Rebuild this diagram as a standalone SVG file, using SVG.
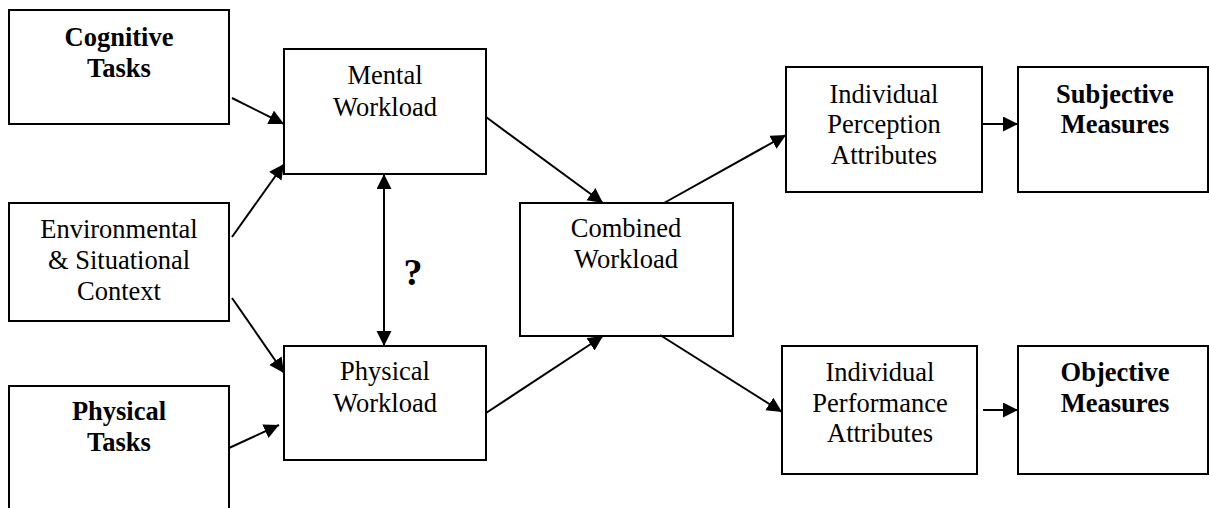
<svg xmlns="http://www.w3.org/2000/svg" width="1209" height="508" viewBox="0 0 1209 508">
  <style>
    .box { fill: #fff; stroke: #000; stroke-width: 2; }
    .lbl { font-family: "Liberation Serif", "Times New Roman", serif; font-size: 26.5px; fill: #000; text-anchor: middle; }
    .b { font-weight: bold; }
    .conn { stroke: #000; stroke-width: 2; fill: none; marker-end: url(#head); }
  </style>
  <defs>
    <marker id="head" markerUnits="userSpaceOnUse" markerWidth="16" markerHeight="16" refX="15" refY="7.5" orient="auto-start-reverse">
      <path d="M0,0 L15,7.5 L0,15 Z" fill="#000"/>
    </marker>
  </defs>
  <rect width="1209" height="508" fill="#fff"/>

  <g id="cognitive-tasks">
    <rect class="box" x="9" y="10" width="220" height="114"/>
    <text class="lbl b" x="119" y="46">Cognitive</text>
    <text class="lbl b" x="119" y="77">Tasks</text>
  </g>

  <g id="environmental-context">
    <rect class="box" x="9" y="203" width="220" height="118"/>
    <text class="lbl" x="119" y="238">Environmental</text>
    <text class="lbl" x="119" y="269">&amp; Situational</text>
    <text class="lbl" x="119" y="300">Context</text>
  </g>

  <g id="physical-tasks">
    <rect class="box" x="9" y="386" width="220" height="140"/>
    <text class="lbl b" x="119" y="420">Physical</text>
    <text class="lbl b" x="119" y="451">Tasks</text>
  </g>

  <g id="mental-workload">
    <rect class="box" x="284" y="49" width="202" height="125"/>
    <text class="lbl" x="385" y="84">Mental</text>
    <text class="lbl" x="385" y="116">Workload</text>
  </g>

  <g id="physical-workload">
    <rect class="box" x="284" y="346" width="202" height="114"/>
    <text class="lbl" x="385" y="380">Physical</text>
    <text class="lbl" x="385" y="412">Workload</text>
  </g>

  <g id="combined-workload">
    <rect class="box" x="520" y="203" width="213" height="133"/>
    <text class="lbl" x="626" y="237">Combined</text>
    <text class="lbl" x="626" y="268">Workload</text>
  </g>

  <g id="perception-attributes">
    <rect class="box" x="786" y="67" width="196" height="125"/>
    <text class="lbl" x="884" y="103">Individual</text>
    <text class="lbl" x="884" y="133">Perception</text>
    <text class="lbl" x="884" y="164">Attributes</text>
  </g>

  <g id="subjective-measures">
    <rect class="box" x="1018" y="67" width="190" height="125"/>
    <text class="lbl b" x="1115" y="103">Subjective</text>
    <text class="lbl b" x="1115" y="133">Measures</text>
  </g>

  <g id="performance-attributes">
    <rect class="box" x="782" y="346" width="195" height="128"/>
    <text class="lbl" x="880" y="381">Individual</text>
    <text class="lbl" x="880" y="412">Performance</text>
    <text class="lbl" x="880" y="442">Attributes</text>
  </g>

  <g id="objective-measures">
    <rect class="box" x="1018" y="346" width="190" height="128"/>
    <text class="lbl b" x="1115" y="381">Objective</text>
    <text class="lbl b" x="1115" y="412">Measures</text>
  </g>

  <g id="connectors">
    <line class="conn" x1="232" y1="98" x2="284" y2="124"/>
    <line class="conn" x1="232" y1="237" x2="284" y2="164"/>
    <line class="conn" x1="232" y1="298" x2="284" y2="373"/>
    <line class="conn" x1="229" y1="448" x2="279" y2="425"/>
    <line class="conn" x1="384" y1="174" x2="384" y2="346" marker-start="url(#head)"/>
    <line class="conn" x1="486" y1="117" x2="603" y2="203"/>
    <line class="conn" x1="486" y1="413" x2="603" y2="336"/>
    <line class="conn" x1="664" y1="203" x2="786" y2="135"/>
    <line class="conn" x1="660" y1="335" x2="782" y2="412"/>
    <line class="conn" x1="982" y1="124" x2="1018" y2="124"/>
    <line class="conn" x1="983" y1="410" x2="1018" y2="410"/>
    <text class="lbl b" x="413" y="285" style="font-size:38px">?</text>
  </g>
</svg>
